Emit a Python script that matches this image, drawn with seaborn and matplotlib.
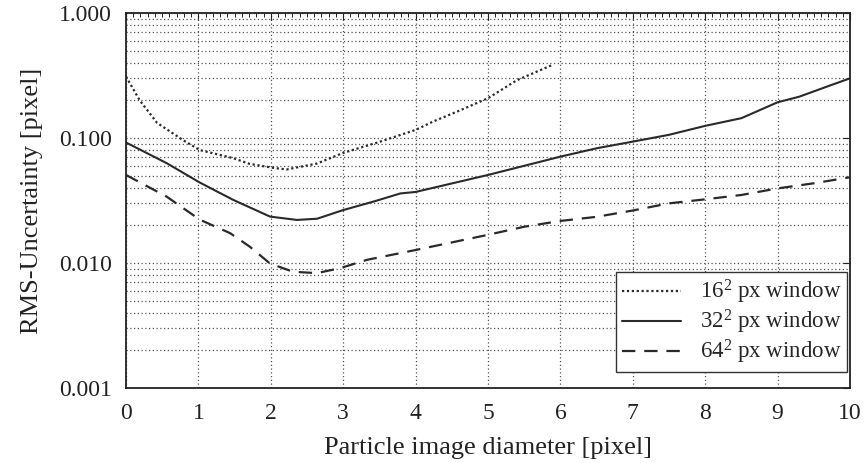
import numpy as np
import pandas as pd
import matplotlib
matplotlib.use("Agg")
import matplotlib.pyplot as plt
import matplotlib.ticker as mticker
import seaborn as sns

# --- data ---
x16 = [0.0, 0.19, 0.43, 0.79, 1.02, 1.48, 1.71, 2.05, 2.22, 2.64, 3.0, 3.5, 4.0, 4.25, 4.6, 5.0, 5.4, 5.89]
y16 = [0.31, 0.20, 0.132, 0.096, 0.080, 0.069, 0.062, 0.0575, 0.056, 0.0625, 0.076, 0.093, 0.116, 0.136, 0.165, 0.208, 0.29, 0.384]

x32 = [0.0, 0.56, 1.02, 1.48, 1.99, 2.36, 2.64, 3.0, 3.42, 3.79, 4.0, 5.0, 6.0, 6.5, 7.0, 7.5, 8.0, 8.5, 9.0, 9.3, 9.7, 10.0]
y32 = [0.092, 0.063, 0.044, 0.032, 0.0235, 0.0221, 0.0226, 0.0265, 0.031, 0.036, 0.037, 0.0506, 0.0709, 0.0827, 0.0935, 0.106, 0.125, 0.144, 0.193, 0.214, 0.26, 0.30]

x64 = [0.0, 0.56, 1.02, 1.44, 1.71, 1.99, 2.31, 2.64, 2.96, 3.33, 3.79, 4.0, 5.0, 5.5, 6.0, 6.5, 7.0, 7.5, 8.0, 8.5, 9.0, 9.5, 10.0]
y64 = [0.0506, 0.034, 0.0222, 0.0173, 0.0135, 0.0099, 0.0085, 0.0083, 0.0091, 0.0106, 0.012, 0.0127, 0.0168, 0.0195, 0.0217, 0.0234, 0.0263, 0.030, 0.0323, 0.035, 0.0395, 0.0434, 0.0485]

labels = [r"16$^{2}$ px window", r"32$^{2}$ px window", r"64$^{2}$ px window"]
xticks = list(range(0, 11))
yticks = [0.001, 0.01, 0.1, 1.0]

sns.set_theme(style="white")
plt.rcParams['font.family'] = ['Liberation Serif', 'DejaVu Serif']
plt.rcParams['mathtext.fontset'] = 'custom'
plt.rcParams['mathtext.rm'] = 'Liberation Serif'
plt.rcParams['mathtext.it'] = 'Liberation Serif'

fig = plt.figure(figsize=(8.64, 4.63), dpi=100)
ax = fig.add_axes([0.1458, 0.162, 0.8380, 0.810])

col = "#2a2a2a"
sns.lineplot(x=x16, y=y16, ax=ax, color=col, lw=1.6, label=labels[0])
sns.lineplot(x=x32, y=y32, ax=ax, color=col, lw=1.5, label=labels[1])
sns.lineplot(x=x64, y=y64, ax=ax, color=col, lw=1.6, label=labels[2])
lines = ax.get_lines()
lines[0].set_linestyle((0, (1, 1.2)))
lines[1].set_linestyle('-')
lines[2].set_linestyle((0, (6, 4)))

ax.set_yscale('log')
ax.set_xlim(0, 10)
ax.set_ylim(0.001, 1.0)
ax.set_xticks(xticks)
ax.xaxis.set_minor_locator(mticker.MultipleLocator(0.1))
ax.set_yticks(yticks)
ax.yaxis.set_major_formatter(mticker.FuncFormatter(lambda v, p: f"{v:.3f}"))
ax.yaxis.set_minor_locator(mticker.LogLocator(base=10, subs=np.arange(2, 10)))
ax.yaxis.set_minor_formatter(mticker.NullFormatter())

ax.grid(True, which='major', axis='both', color='#555555', ls=(0, (1, 2)), lw=0.9)
ax.grid(True, which='minor', axis='y', color='#555555', ls=(0, (1, 2)), lw=0.9)

ax.tick_params(axis='both', which='both', direction='in', top=True, right=True,
               labelsize=17, colors='#222222')
ax.tick_params(axis='both', which='major', length=5, width=0.8)
ax.tick_params(axis='x', which='major', pad=11)
ax.tick_params(axis='y', which='major', pad=10)
ax.tick_params(axis='both', which='minor', length=3, width=0.7)
ax.tick_params(axis='y', which='minor', length=0)
for s in ax.spines.values():
    s.set_visible(True)
    s.set_color('#222222')
    s.set_linewidth(1.3)

ax.set_xlabel("Particle image diameter [pixel]", fontsize=19, color='#222222', labelpad=9)
ax.set_ylabel("RMS-Uncertainty [pixel]", fontsize=19, color='#222222', labelpad=12)

leg = ax.legend(loc='lower right', bbox_to_anchor=(0.996, 0.043), fontsize=16.5,
                frameon=True, fancybox=False, edgecolor='#333333', framealpha=1,
                handlelength=2.6, borderpad=0.25, labelspacing=0.08, handletextpad=0.8,
                borderaxespad=0)
leg.get_frame().set_linewidth(1.0)

fig.savefig("out.png", dpi=100, facecolor='white')
